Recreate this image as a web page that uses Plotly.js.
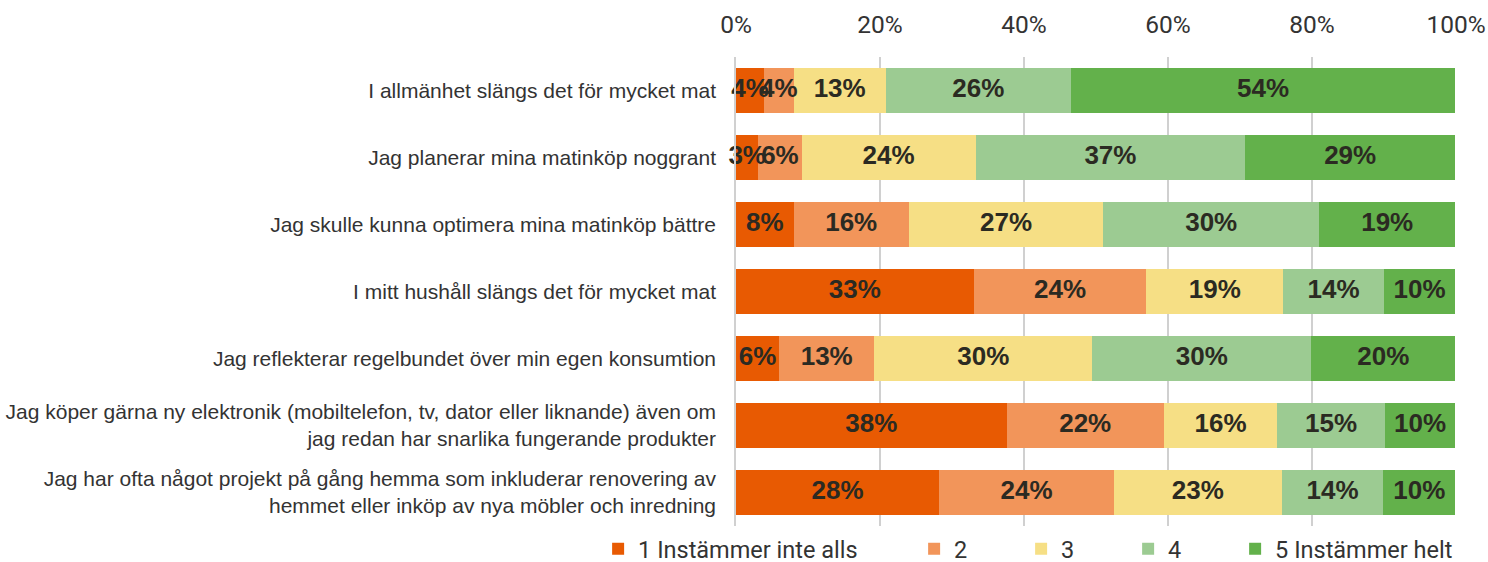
<!DOCTYPE html>
<html>
<head>
<meta charset="utf-8">
<script src="https://cdn.plot.ly/plotly-3.0.1.min.js"></script>
<style>
  html, body { margin: 0; padding: 0; background: #fff; }
  #chart { width: 1488px; height: 562px; }
</style>
</head>
<body>
<div id="chart"></div>
<script>
const statements = [
  "I allmänhet slängs det för mycket mat",
  "Jag planerar mina matinköp noggrant",
  "Jag skulle kunna optimera mina matinköp bättre",
  "I mitt hushåll slängs det för mycket mat",
  "Jag reflekterar regelbundet över min egen konsumtion",
  "Jag köper gärna ny elektronik (mobiltelefon, tv, dator eller liknande) även om<br>jag redan har snarlika fungerande produkter",
  "Jag har ofta något projekt på gång hemma som inkluderar renovering av<br>hemmet eller inköp av nya möbler och inredning",
];

const seriesNames = ["1 Instämmer inte alls", "2", "3", "4", "5 Instämmer helt"];

// share of answers (%), one array per answer level
const level1 = [3.9, 3.1, 8.0, 33.0, 6.0, 37.6, 28.2];
const level2 = [4.1, 6.0, 16.0, 24.0, 13.2, 21.8, 24.3];
const level3 = [12.8, 24.2, 27.0, 19.0, 30.3, 15.8, 23.3];
const level4 = [25.7, 37.4, 30.0, 14.0, 30.4, 14.9, 14.1];
const level5 = [53.4, 29.2, 18.9, 9.9, 20.0, 9.8, 10.0];

// rounded labels as printed in the bars
const labels1 = ["4%", "3%", "8%", "33%", "6%", "38%", "28%"];
const labels2 = ["4%", "6%", "16%", "24%", "13%", "22%", "24%"];
const labels3 = ["13%", "24%", "27%", "19%", "30%", "16%", "23%"];
const labels4 = ["26%", "37%", "30%", "14%", "30%", "15%", "14%"];
const labels5 = ["54%", "29%", "19%", "10%", "20%", "10%", "10%"];

const colors = ["#E85A02", "#F2955A", "#F6DF85", "#9CCB92", "#63B14B"];
const legendWidths = [271, 62, 62, 62, 180];

const values = [level1, level2, level3, level4, level5];
const labels = [labels1, labels2, labels3, labels4, labels5];

const traces = values.map((x, i) => ({
  type: "bar",
  orientation: "h",
  name: seriesNames[i],
  x: x,
  y: statements,
  width: 0.66,
  marker: { color: colors[i], line: { width: 0 } },
  legendwidth: legendWidths[i],
  hoverinfo: "name+x",
}));

// labels go on top of all bars so small segments can spill over neighbours
const offset = statements.map(() => 0);
values.forEach((x, i) => {
  const mids = x.map((v, j) => offset[j] + v / 2);
  x.forEach((v, j) => (offset[j] += v));
  traces.push({
    type: "scatter",
    mode: "text",
    x: mids,
    y: statements,
    text: labels[i],
    textposition: "middle center",
    textfont: { family: "Liberation Sans, Arial, sans-serif", size: 26, color: "#2b2a22", weight: "bold" },
    cliponaxis: false,
    showlegend: false,
    hoverinfo: "skip",
  });
});

const layout = {
  width: 1488,
  height: 562,
  barmode: "stack",
  margin: { t: 57, b: 36, l: 736, r: 32, pad: 0, autoexpand: false },
  paper_bgcolor: "#fff",
  plot_bgcolor: "#fff",
  showlegend: true,
  font: { family: "Roboto, sans-serif", color: "#333" },
  xaxis: {
    side: "top",
    range: [0, 100],
    dtick: 20,
    ticksuffix: "%",
    showgrid: true,
    gridcolor: "#d0d0d0",
    gridwidth: 1.5,
    zeroline: false,
    showline: false,
    ticks: "",
    ticklabelstandoff: 18,
    tickfont: { family: "Roboto, sans-serif", size: 24.5, color: "#333" },
    fixedrange: true,
  },
  yaxis: {
    type: "category",
    autorange: "reversed",
    showgrid: false,
    zeroline: false,
    showline: true,
    linecolor: "#d0d0d0",
    linewidth: 1.5,
    ticks: "",
    ticklabelstandoff: 14,
    tickfont: { family: "Liberation Sans, Arial, sans-serif", size: 21, color: "#333" },
    fixedrange: true,
  },
  legend: {
    orientation: "h",
    xref: "paper",
    yref: "paper",
    x: -0.1915,
    y: -0.049,
    xanchor: "left",
    yanchor: "middle",
    traceorder: "normal",
    font: { family: "Roboto, sans-serif", size: 23.5, color: "#333" },
    itemwidth: 30,
    bgcolor: "rgba(0,0,0,0)",
  },
};

Plotly.newPlot("chart", traces, layout, { displayModeBar: false, responsive: false });
</script>
</body>
</html>
